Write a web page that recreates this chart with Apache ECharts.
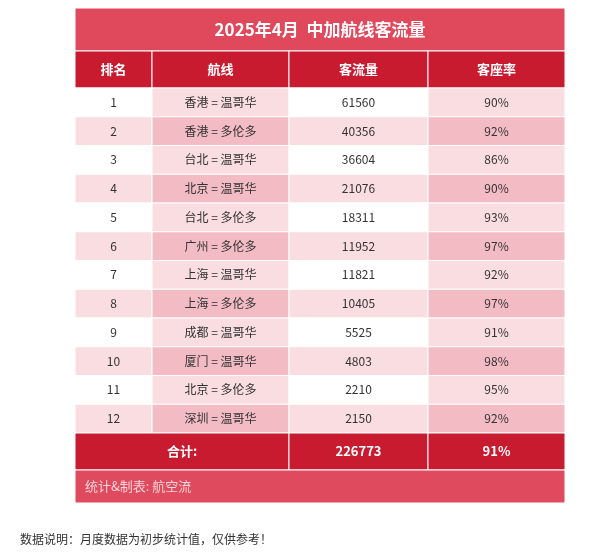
<!DOCTYPE html>
<html><head><meta charset="utf-8">
<script src="https://cdn.jsdelivr.net/npm/echarts@6/dist/echarts.min.js"></script>
<style>body{margin:0;background:#fff}#c{width:600px;height:556px}</style>
</head><body><div id="c"></div>
<script>
const title = '2025年4月  中加航线客流量';
const headers = ['排名', '航线', '客流量', '客座率'];
const ranks = ['1','2','3','4','5','6','7','8','9','10','11','12'];
const routes = ['香港 = 温哥华','香港 = 多伦多','台北 = 温哥华','北京 = 温哥华','台北 = 多伦多','广州 = 多伦多','上海 = 温哥华','上海 = 多伦多','成都 = 温哥华','厦门 = 温哥华','北京 = 多伦多','深圳 = 温哥华'];
const passengers = [61560, 40356, 36604, 21076, 18311, 11952, 11821, 10405, 5525, 4803, 2210, 2150];
const loadFactor = ['90%','92%','86%','90%','93%','97%','92%','97%','91%','98%','95%','92%'];
const totalLabel = '合计:';
const totalPassengers = '226773';
const totalLoad = '91%';
const footer = '统计&制表: 航空流';
const note = '数据说明：月度数据为初步统计值，仅供参考！';

// layout (pixel-unit axes)
const colX = [0, 77, 214, 353, 490];
const titleH = 43, headH = 37, rowH = 28.75, totalH = 37, footH = 33;
const cells = [];
const F = '"Noto Sans CJK SC", sans-serif';
let y = 0;
cells.push({value:[0,4,y,y+titleH], text:title, fill:'#e0485b', color:'#fff', size:17, bold:true, align:'center', spacing:true});
y += titleH;
headers.forEach((h,i)=>cells.push({value:[i,i+1,y,y+headH], text:h, fill:'#c81b30', color:'#fff', size:13, bold:true, align:'center'}));
y += headH;
const light=['#ffffff','#fadde1'], mid=['#fadde1','#f3bcc4'];
for (let r=0;r<ranks.length;r++){
  const vals=[ranks[r], routes[r], String(passengers[r]), loadFactor[r]];
  vals.forEach((v,i)=>{
    const pal = (i%2===0)?light:mid;
    cells.push({value:[i,i+1,y,y+rowH], text:v, fill:pal[r%2], color:'#333', size:12, align:'center'});
  });
  y += rowH;
}
cells.push({value:[0,2,y,y+totalH], text:totalLabel, fill:'#c81b30', color:'#fff', size:13, bold:true, align:'center'});
cells.push({value:[2,3,y,y+totalH], text:totalPassengers, fill:'#c81b30', color:'#fff', size:13, bold:true, align:'center'});
cells.push({value:[3,4,y,y+totalH], text:totalLoad, fill:'#c81b30', color:'#fff', size:13, bold:true, align:'center'});
y += totalH;
cells.push({value:[0,4,y,y+footH], text:footer, fill:'#e04a5e', color:'#fbd3d8', size:13, align:'left'});
y += footH;

const chart = echarts.init(document.getElementById('c'));
chart.setOption({
  animation:false,
  grid:{left:75, top:8, width:490, height:y},
  xAxis:{type:'value', min:0, max:490, show:false},
  yAxis:{type:'value', min:0, max:y, inverse:true, show:false},
  graphic:[{type:'text', left:20, top:533, style:{text:note, font:'12px '+F, fill:'#333'}}],
  series:[{
    type:'custom',
    data:cells,
    renderItem:(params, api)=>{
      const c = cells[params.dataIndex];
      const p0 = api.coord([colX[api.value(0)], api.value(2)]);
      const p1 = api.coord([colX[api.value(1)], api.value(3)]);
      const w = p1[0]-p0[0], h = p1[1]-p0[1];
      const tx = c.align==='left' ? p0[0]+10 : p0[0]+w/2;
      return {type:'group', children:[
        {type:'rect', shape:{x:p0[0], y:p0[1], width:w, height:h}, style:{fill:c.fill, stroke:'#fff', lineWidth:1}},
        {type:'text', style:{x:tx, y:p0[1]+h/2, text:c.text, fill:c.color,
          font:(c.bold?'bold ':'')+c.size+'px '+F, align:c.align, verticalAlign:'middle'}}
      ]};
    }
  }]
});
</script></body></html>
